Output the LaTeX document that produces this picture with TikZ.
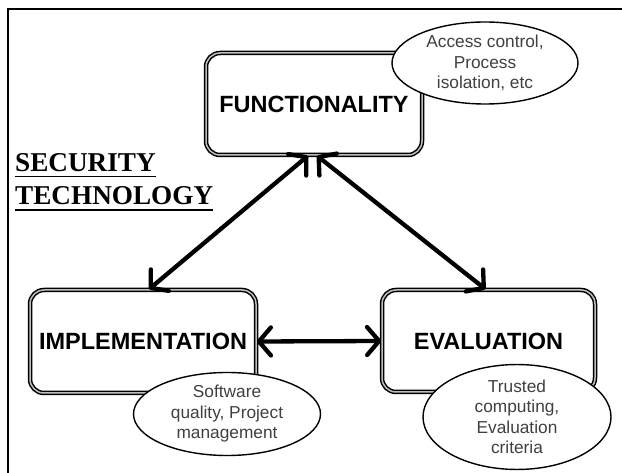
\documentclass[tikz,border=0pt]{standalone}
\usepackage{fontspec}
\setmainfont{Liberation Sans}
\newfontfamily\headfont{Liberation Serif}
\usetikzlibrary{shapes.geometric,arrows.meta}
\begin{document}
\begin{tikzpicture}[x=1pt,y=-1pt,
  mainbox/.style={draw=black, line width=1.5pt, double=gray!50, double distance=1.5pt,
    rounded corners=14pt, fill=white, inner sep=0pt,
    font=\fontsize{23.5}{26}\selectfont\bfseries},
  note/.style={ellipse, draw=black, line width=1.4pt, fill=white, inner sep=0pt,
    align=center, text=black!75, font=\fontsize{17.3}{20.5}\selectfont},
  link/.style={line width=4.3pt, line cap=round, {Straight Barb[round,length=12pt,width=28pt]}-{Straight Barb[round,length=12pt,width=28pt]}},
  heading/.style={anchor=base west, inner sep=0pt, font=\headfont\fontsize{27.2}{30}\selectfont\bfseries},
  uline/.style={line width=1.8pt}
]
\useasboundingbox (0,0) rectangle (622,473);
\fill[white] (0,0) rectangle (622,473);
% frame
\coordinate (fbl) at (8,473);
\coordinate (ftl) at (8,9);
\coordinate (ftr) at (622,9);
\draw[line width=2.2pt] (fbl) -- (ftl) -- (ftr);

% boxes
\node[mainbox, minimum width=216pt, minimum height=102pt] (f) at (314,104) {FUNCTIONALITY};
\node[mainbox, minimum width=226pt, minimum height=103pt] (i) at (143,341.5) {IMPLEMENTATION};
\node[mainbox, minimum width=213pt, minimum height=102pt] (e) at (488.5,341) {EVALUATION};

% notes
\node[note, minimum width=186pt, minimum height=82pt] (n1) at (485,63) {Access control,\\Process\\isolation, etc};
\node[note, minimum width=187pt, minimum height=83pt] (n2) at (227,414) {Software\\quality, Project\\management};
\node[note, minimum width=188pt, minimum height=90pt] (n3) at (517,417) {Trusted\\computing,\\Evaluation\\criteria};

% heading
\node[heading] (h1) at (15,172) {SECURITY};
\node[heading] (h2) at (15,205) {TECHNOLOGY};
\draw[uline] ([yshift=-4.5pt]h1.base west) -- ([yshift=-4.5pt]h1.base east);
\draw[uline] ([yshift=-5pt]h2.base west) -- ([yshift=-5pt]h2.base east);

% arrows
\draw[link] ([xshift=-6pt]f.south) -- ([xshift=6pt]i.north);
\draw[link] ([xshift=3pt]f.south) -- ([xshift=-3pt]e.north);
\draw[link] (i.east) -- (e.west);
\end{tikzpicture}
\end{document}
